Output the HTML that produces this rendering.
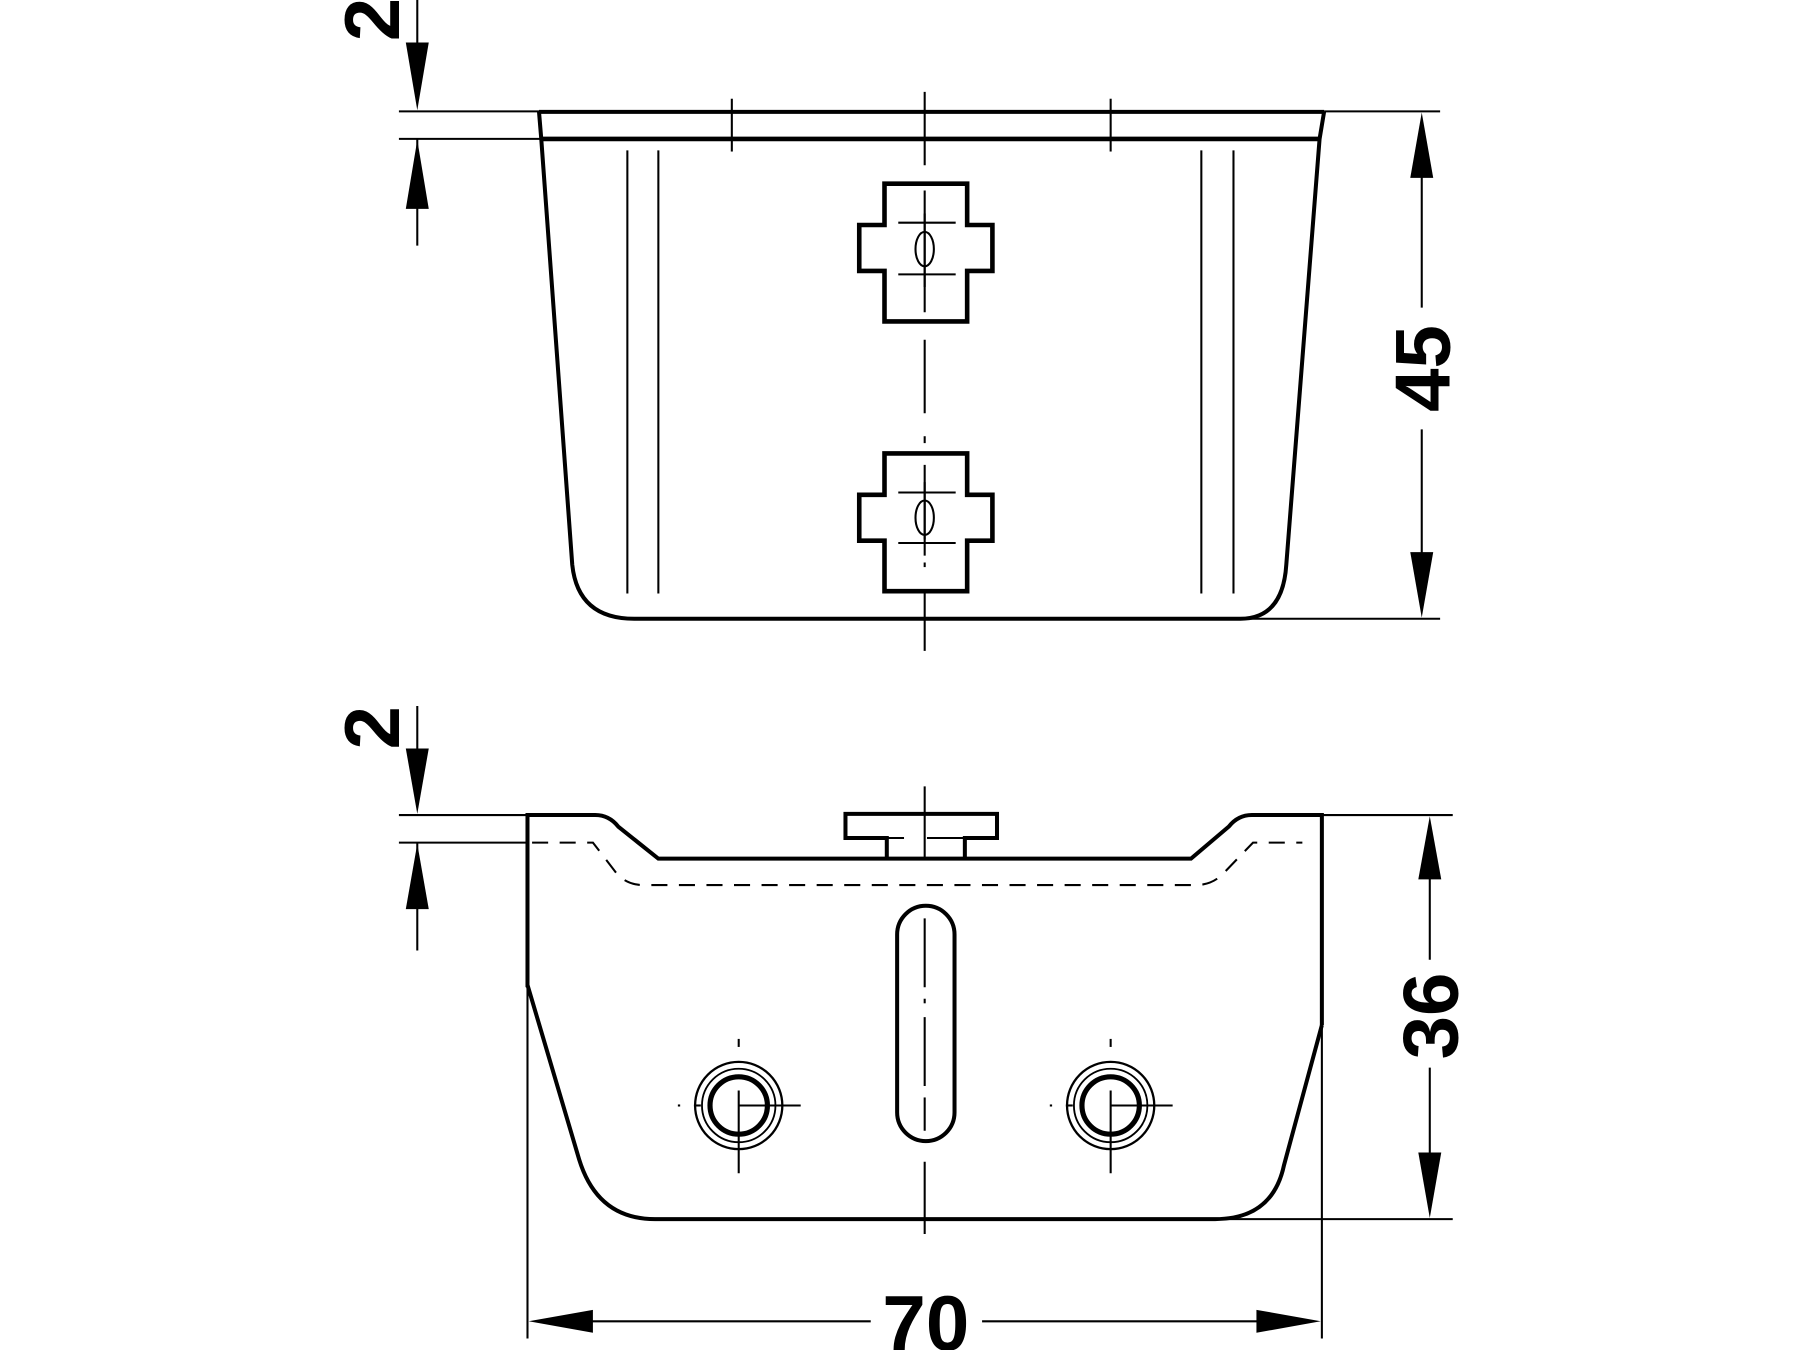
<!DOCTYPE html>
<html><head><meta charset="utf-8"><style>html,body{margin:0;padding:0;background:#fff}svg{display:block}</style></head>
<body>
<svg width="1800" height="1350" viewBox="0 0 1567 1176" xmlns="http://www.w3.org/2000/svg" font-family="Liberation Sans, sans-serif" font-weight="bold">
<rect width="1567" height="1176" fill="#fff"/>
<g stroke="#000" fill="none" stroke-linecap="butt">
<!-- ===== TOP VIEW ===== -->
<line x1="347" y1="97" x2="469" y2="97" stroke-width="1.8"/>
<line x1="347" y1="121" x2="471" y2="121" stroke-width="1.8"/>
<line x1="1153" y1="97" x2="1254" y2="97" stroke-width="1.8"/>
<line x1="1084" y1="539" x2="1254" y2="539" stroke-width="1.8"/>
<line x1="469" y1="97.5" x2="1153" y2="97.5" stroke-width="3.5"/>
<line x1="471" y1="121" x2="1149" y2="121" stroke-width="4"/>
<path d="M469 97 L471 121 L498 492 Q503 539 552 539 L1080 539 Q1117 539 1120 492 L1149 121 L1153 97" stroke-width="3.5"/>
<g stroke-width="1.8">
<line x1="546" y1="131" x2="546" y2="517"/><line x1="573" y1="131" x2="573" y2="517"/>
<line x1="1046" y1="131" x2="1046" y2="517"/><line x1="1074" y1="131" x2="1074" y2="517"/>
<line x1="637" y1="86" x2="637" y2="132"/><line x1="967" y1="86" x2="967" y2="132"/>
<line x1="805" y1="80" x2="805" y2="144"/>
<line x1="805" y1="166" x2="805" y2="272"/>
<line x1="805" y1="296" x2="805" y2="360"/>
<line x1="805" y1="380" x2="805" y2="386"/>
<line x1="805" y1="405" x2="805" y2="470"/>
<line x1="805" y1="490" x2="805" y2="494"/>
<line x1="805" y1="515" x2="805" y2="567"/>
</g>
<path d="M770 160 H842 V196 H864 V236 H842 V280 H770 V236 H748 V196 H770 Z" stroke-width="4"/>
<path d="M770 395 H842 V431 H864 V471 H842 V515 H770 V471 H748 V431 H770 Z" stroke-width="4"/>
<g stroke-width="1.8">
<ellipse cx="805" cy="217" rx="8" ry="15"/>
<line x1="782" y1="194" x2="832" y2="194"/><line x1="782" y1="239" x2="832" y2="239"/>
<line x1="805" y1="186" x2="805" y2="250"/>
<ellipse cx="805" cy="451" rx="8" ry="15"/>
<line x1="782" y1="429" x2="832" y2="429"/><line x1="782" y1="473" x2="832" y2="473"/>
<line x1="805" y1="420" x2="805" y2="484"/>
</g>
<line x1="363" y1="0" x2="363" y2="40" stroke-width="1.8"/>
<line x1="363" y1="121" x2="363" y2="214" stroke-width="1.8"/>
<line x1="1238" y1="150" x2="1238" y2="268" stroke-width="1.8"/>
<line x1="1238" y1="374" x2="1238" y2="485" stroke-width="1.8"/>

<!-- ===== BOTTOM VIEW ===== -->
<line x1="347" y1="710" x2="459" y2="710" stroke-width="1.8"/>
<line x1="347" y1="734" x2="459" y2="734" stroke-width="1.8"/>
<line x1="1151" y1="710" x2="1265" y2="710" stroke-width="1.8"/>
<line x1="1061" y1="1062" x2="1265" y2="1062" stroke-width="1.8"/>
<line x1="459" y1="710" x2="459" y2="1166" stroke-width="1.8"/>
<line x1="1151" y1="710" x2="1151" y2="1166" stroke-width="1.8"/>
<path d="M459 860 L459 710 L518 710 Q530 710 538 720 L573 748 L1037 748 L1070 720 Q1078 710 1090 710 L1151 710 L1151 893" stroke-width="3.5"/>
<path d="M459 858 L504 1010 Q520 1062 570 1062 L1058 1062 Q1108 1062 1118 1015 L1151 893" stroke-width="3.5"/>
<path d="M772 748 V730 H736 V709 H868 V730 H840 V748" stroke-width="3.5"/>
<g stroke-width="1.8">
<line x1="764" y1="730" x2="787" y2="730"/><line x1="807" y1="730" x2="840" y2="730"/>
<line x1="805" y1="685" x2="805" y2="748"/>
</g>
<path d="M463 734 L516 734 L536 760 Q545 771 560 771 L1041 771 Q1056 771 1066 760 L1091 734 L1134 734" stroke-width="1.8" stroke-dasharray="14 10"/>
<rect x="781" y="789" width="50" height="205" rx="25" stroke-width="3.5"/>
<g stroke-width="1.8">
<line x1="805" y1="800" x2="805" y2="860"/><line x1="805" y1="870" x2="805" y2="874"/><line x1="805" y1="886" x2="805" y2="946"/><line x1="805" y1="956" x2="805" y2="985"/>
<line x1="805" y1="1012" x2="805" y2="1075"/>
</g>
<g>
<circle cx="643" cy="963" r="38" stroke-width="2"/><circle cx="643" cy="963" r="32" stroke-width="1.6"/><circle cx="643" cy="963" r="25" stroke-width="4.5"/>
<line x1="604" y1="963" x2="610" y2="963" stroke-width="1.8"/><line x1="643" y1="963" x2="697" y2="963" stroke-width="1.8"/>
<line x1="590" y1="963" x2="592" y2="963" stroke-width="1.8"/>
<line x1="643" y1="950" x2="643" y2="1022" stroke-width="1.8"/><line x1="643" y1="905" x2="643" y2="912" stroke-width="1.8"/>
<circle cx="967" cy="963" r="38" stroke-width="2"/><circle cx="967" cy="963" r="32" stroke-width="1.6"/><circle cx="967" cy="963" r="25" stroke-width="4.5"/>
<line x1="928" y1="963" x2="934" y2="963" stroke-width="1.8"/><line x1="967" y1="963" x2="1021" y2="963" stroke-width="1.8"/>
<line x1="914" y1="963" x2="916" y2="963" stroke-width="1.8"/>
<line x1="967" y1="950" x2="967" y2="1022" stroke-width="1.8"/><line x1="967" y1="905" x2="967" y2="912" stroke-width="1.8"/>
</g>
<line x1="363" y1="615" x2="363" y2="655" stroke-width="1.8"/>
<line x1="363" y1="734" x2="363" y2="828" stroke-width="1.8"/>
<line x1="1245" y1="765" x2="1245" y2="836" stroke-width="1.8"/>
<line x1="1245" y1="930" x2="1245" y2="1005" stroke-width="1.8"/>
<line x1="515" y1="1151" x2="758" y2="1151" stroke-width="1.8"/>
<line x1="855" y1="1151" x2="1095" y2="1151" stroke-width="1.8"/>
</g>
<g fill="#000">
<polygon points="353,37 373,37 363,96"/>
<polygon points="353,182 373,182 363,122"/>
<polygon points="1228,155 1248,155 1238,98"/>
<polygon points="1228,481 1248,481 1238,538"/>
<polygon points="353,652 373,652 363,709"/>
<polygon points="353,792 373,792 363,735"/>
<polygon points="1235,766 1255,766 1245,711"/>
<polygon points="1235,1004 1255,1004 1245,1061"/>
<polygon points="516,1141 516,1161 460,1151"/>
<polygon points="1094,1141 1094,1161 1150,1151"/>
</g>
<g font-size="68" fill="#000">
<text transform="translate(347,17) rotate(-90)" text-anchor="middle">2</text>
<text transform="translate(347,634) rotate(-90)" text-anchor="middle">2</text>
<text transform="translate(1262,321) rotate(-90)" text-anchor="middle">45</text>
<text transform="translate(1269,885) rotate(-90)" text-anchor="middle">36</text>
<text x="806" y="1176" text-anchor="middle">70</text>
</g>
</svg>
</body></html>
